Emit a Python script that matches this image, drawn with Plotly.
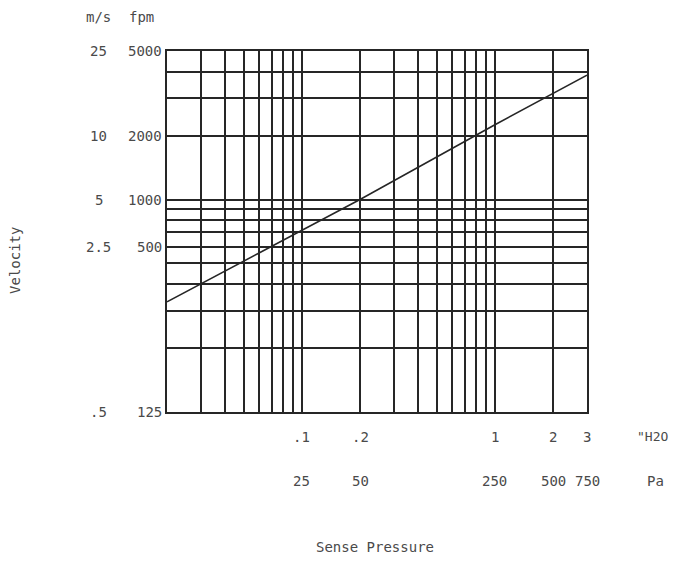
import numpy as np
import plotly.graph_objects as go

# Sense pressure grid (inH2O) and velocity grid (fpm)
x_grid = [0.02, 0.03, 0.04, 0.05, 0.06, 0.07, 0.08, 0.09,
          0.1, 0.2, 0.3, 0.4, 0.5, 0.6, 0.7, 0.8, 0.9, 1, 2, 3]
y_grid = [100, 200, 300, 400, 500, 600, 700, 800, 900,
          1000, 2000, 3000, 4000, 5000]

# Tick labels as printed on the chart
inh2o_label_vals = [0.1, 0.2, 1, 2, 3]
inh2o_labels = [".1", ".2", "1", "2", "3"]
pa_labels = ["25", "50", "250", "500", "750"]
fpm_label_vals = [5000, 2000, 1000, 600, 100]
fpm_labels = ["5000", "2000", "1000", "500", "125"]
ms_labels = ["25", "10", "5", "2.5", ".5"]

# Curve
line_dp = [0.02, 0.2, 1, 3]
line_v = [330, 1000, 2250, 3850]

FONT = "DejaVu Sans Mono"
TXT = "#4a4a4a"
GRID = "#262626"

fig = go.Figure()
fig.add_trace(go.Scatter(x=line_dp, y=line_v, mode="lines",
                         line=dict(color=GRID, width=1.6),
                         showlegend=False, hoverinfo="skip"))

fig.update_xaxes(type="log", range=[np.log10(0.02), np.log10(3)],
                 tickvals=x_grid, showticklabels=False, ticks="",
                 showgrid=True, gridcolor=GRID, gridwidth=1.6,
                 showline=True, mirror=True, linecolor=GRID, linewidth=1.6,
                 minor=dict(showgrid=False))
fig.update_yaxes(type="log", range=[np.log10(100), np.log10(5000)],
                 tickvals=y_grid, showticklabels=False, ticks="",
                 showgrid=True, gridcolor=GRID, gridwidth=1.6,
                 showline=True, mirror=True, linecolor=GRID, linewidth=1.6,
                 minor=dict(showgrid=False))

ann = []
f = dict(family=FONT, size=14, color=TXT)
fu = dict(family=FONT, size=13, color=TXT)
for v, t1, t2 in zip(inh2o_label_vals, inh2o_labels, pa_labels):
    ann.append(dict(x=np.log10(v), y=-0.069, xref="x", yref="paper", text=t1,
                    showarrow=False, font=f, xanchor="center", yanchor="middle"))
    ann.append(dict(x=np.log10(v), y=-0.191, xref="x", yref="paper", text=t2,
                    showarrow=False, font=f, xanchor="center", yanchor="middle"))
for v, t1, t2 in zip(fpm_label_vals, fpm_labels, ms_labels):
    ann.append(dict(x=-0.007, y=np.log10(v), xref="paper", yref="y", text=t1,
                    showarrow=False, font=f, xanchor="right", yanchor="middle"))
    ann.append(dict(x=-0.162, y=np.log10(v), xref="paper", yref="y", text=t2,
                    showarrow=False, font=f, xanchor="center", yanchor="middle"))
ann += [
    dict(x=-0.162, y=1.094, xref="paper", yref="paper", text="m/s",
         showarrow=False, font=f, xanchor="center", yanchor="middle"),
    dict(x=-0.06, y=1.094, xref="paper", yref="paper", text="fpm",
         showarrow=False, font=f, xanchor="center", yanchor="middle"),
    dict(x=1.155, y=-0.069, xref="paper", yref="paper", text='"H2O',
         showarrow=False, font=fu, xanchor="center", yanchor="middle"),
    dict(x=1.162, y=-0.191, xref="paper", yref="paper", text="Pa",
         showarrow=False, font=f, xanchor="center", yanchor="middle"),
    dict(x=-0.362, y=0.421, xref="paper", yref="paper", text="Velocity",
         showarrow=False, font=f, textangle=-90, xanchor="center", yanchor="middle"),
    dict(x=0.495, y=-0.374, xref="paper", yref="paper", text="Sense Pressure",
         showarrow=False, font=f, xanchor="center", yanchor="middle"),
]

fig.update_layout(width=662, height=549,
                  margin=dict(l=159, r=83, t=43, b=145),
                  paper_bgcolor="white", plot_bgcolor="white",
                  annotations=ann, showlegend=False)

fig.write_html("out.html")
